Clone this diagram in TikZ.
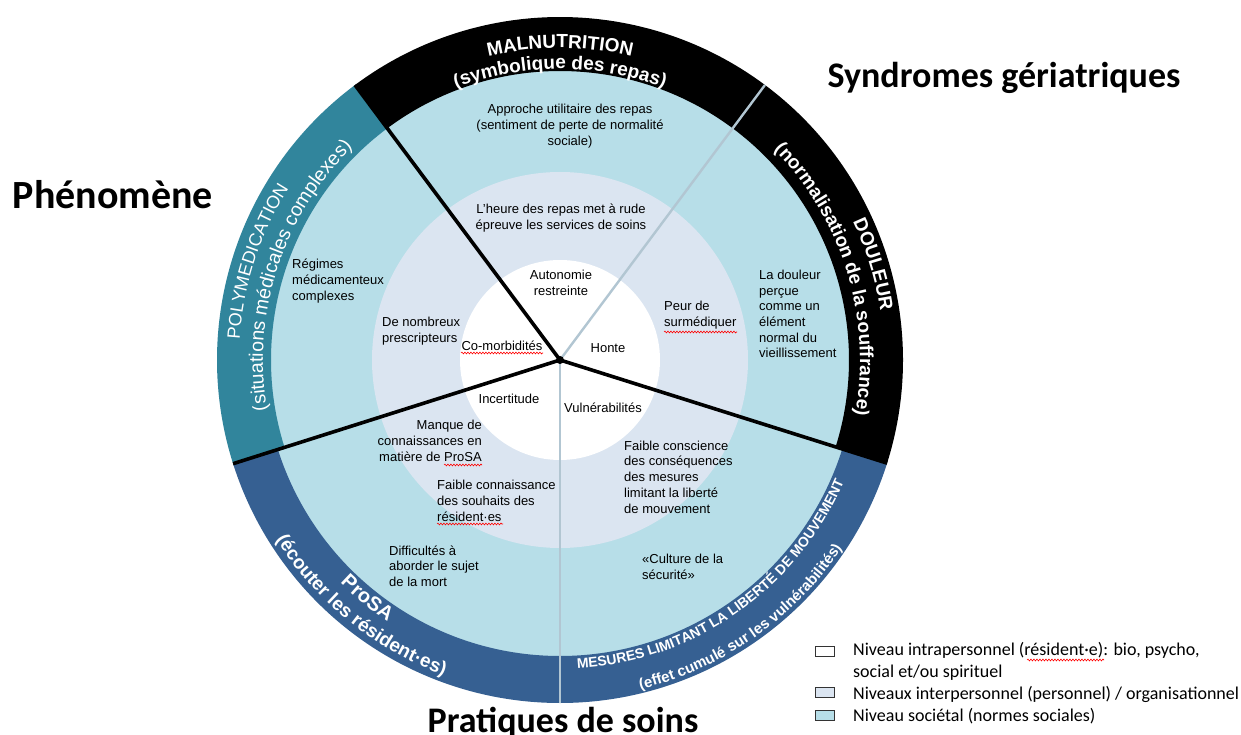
\documentclass[tikz,border=0pt]{standalone}
\usepackage{fontspec}
\setmainfont{Liberation Sans}
\newfontfamily\calibri{Carlito}
\usetikzlibrary{decorations.text,decorations.pathmorphing}

\definecolor{societal}{RGB}{183,222,232}
\definecolor{interpers}{RGB}{219,229,241}
\definecolor{bandteal}{RGB}{49,133,156}
\definecolor{bandblue}{RGB}{54,96,146}
\definecolor{divider}{RGB}{178,198,210}

% fonts used on the curved band labels
\newcommand\bandBig{\fontsize{19}{19}\selectfont\bfseries}
\newcommand\bandPoly{\fontsize{18}{18}\selectfont}
\newcommand\bandPolySub{\fontsize{19.5}{19.5}\selectfont}
\newcommand\bandProsa{\fontsize{20}{20}\selectfont\bfseries}
\newcommand\bandMes{\fontsize{14}{14}\selectfont\bfseries}
\newcommand\bandMesSub{\fontsize{15}{15}\selectfont\bfseries}

% annular sector: colour, start angle, end angle, inner radius, outer radius
\newcommand\ringsector[5]{%
  \fill[#1] (#2:#5) arc[start angle=#2,end angle=#3,radius=#5]
    -- (#3:#4) arc[start angle=#3,end angle=#2,radius=#4] -- cycle;}

% curved white label along an arc: radius, start angle, end angle, text
\newcommand\arclabel[4]{%
  \path[decorate,decoration={text along path,text align=center,
    text color=white,text={#4}}]
    (#2:#1) arc[start angle=#2,end angle=#3,radius=#1];}

\begin{document}
\begin{tikzpicture}[x=1pt,y=1pt,
  body/.style={font=\fontsize{13}{15.7}\selectfont,text=black,inner sep=0pt},
  heading/.style={font=\calibri\bfseries\fontsize{36}{36}\selectfont,text=black,inner sep=0pt},
  legtext/.style={font=\calibri\fontsize{18}{22}\selectfont,text=black,inner sep=0pt,anchor=west,align=left},
  legbox/.style={draw=black!80,line width=0.8pt,minimum width=19pt,minimum height=10pt,inner sep=0pt},
  sectorline/.style={line width=3.6pt,black},
  dividerline/.style={line width=2.4pt,divider},
  spell/.style={red,line width=0.6pt,decorate,decoration={snake,amplitude=0.9pt,segment length=3pt}}]

\useasboundingbox (-560,-375) rectangle (681,360);
\fill[white] (-560,-375) rectangle (681,360);

% concentric levels
\fill[societal] (0,0) circle[radius=300];
\fill[interpers] (0,0) circle[radius=188];
\fill[white] (0,0) circle[radius=100];

% outer band, one sector per theme
\ringsector{black}{53.3}{126.7}{289}{343}
\ringsector{bandteal}{126.7}{197.6}{289}{343}
\ringsector{bandblue}{197.6}{270}{296}{343}
\ringsector{bandblue}{270}{342.5}{296}{343}
\ringsector{black}{-17.5}{53.3}{289}{343}

% spokes
\coordinate (O) at (0,0);
\coordinate (eUR) at (53.3:343);
\coordinate (eDown) at (270:343);
\coordinate (eUL) at (126.7:343);
\coordinate (eL) at (197.6:343);
\coordinate (eR) at (-17.5:343);
\draw[dividerline] (O) -- (eUR);
\draw[dividerline] (O) -- (eDown);
\draw[sectorline] (O) -- (eUL);
\draw[sectorline] (O) -- (eL);
\draw[sectorline] (O) -- (eR);
\fill[black] (O) circle[radius=4];

% curved band labels
\arclabel{312}{130}{50}{|\bandBig|MALNUTRITION}
\arclabel{291}{130}{50}{|\bandBig|(symbolique des repas)}
\arclabel{321}{202}{122}{|\bandPoly|POLYMEDICATION}
\arclabel{297}{202}{122}{|\bandPolySub|(situations médicales complexes)}
\arclabel{324}{57}{-23}{|\bandBig|DOULEUR}
\arclabel{300}{57}{-23}{|\bandBig|(normalisation de la souffrance)}
\arclabel{313}{191}{271}{|\bandProsa|ProSA}
\arclabel{336}{191}{271}{|\bandBig|(écouter les résident·es)}
\arclabel{309}{265}{345}{|\bandMes|MESURES LIMITANT LA LIBERTÉ DE MOUVEMENT}
\arclabel{339}{265}{345}{|\bandMesSub|(effet cumulé sur les vulnérabilités)}

% societal level
\node[body,align=center] (approche) at (10,234) {Approche utilitaire des repas\\(sentiment de perte de normalité\\sociale)};
\node[body,align=left,anchor=west] (regimes) at (-268,79) {Régimes\\médicamenteux\\complexes};
\node[body,align=left,anchor=west] (douleur) at (199,46) {La douleur\\perçue\\comme un\\élément\\normal du\\vieillissement};
\node[body,align=left,anchor=west] (mort) at (-171,-206) {Difficultés à\\aborder le sujet\\de la mort};
\node[body,align=left,anchor=west] (culture) at (82,-207) {«Culture de la\\sécurité»};

% interpersonal / organisational level
\node[body,align=center] (heure) at (1,142) {L’heure des repas met à rude\\épreuve les services de soins};
\node[body,align=left,anchor=west] (prescr) at (-178,29) {De nombreux\\prescripteurs};
\node[body,align=left,anchor=west] (peur) at (104,45) {Peur de\\surmédiquer};
\node[body,align=right,anchor=east] (manque) at (-78,-81) {Manque de\\connaissances en\\matière de ProSA};
\node[body,align=left,anchor=west] (souhaits) at (-123,-141) {Faible connaissance\\des souhaits des\\résident·es};
\node[body,align=left,anchor=west] (conscience) at (64,-117) {Faible conscience\\des conséquences\\des mesures\\limitant la liberté\\de mouvement};

% intrapersonal level
\node[body,align=center] (autonomie) at (1,77) {Autonomie\\restreinte};
\node[body] (comorb) at (-58,14) {Co-morbidités};
\node[body] (honte) at (48,12) {Honte};
\node[body] (incert) at (-51,-39) {Incertitude};
\node[body] (vulner) at (43,-48) {Vulnérabilités};

% spell-check marks
\draw[spell] (-99,7) -- (-17,7);
\draw[spell] (104,28) -- (177,28);
\draw[spell] (-116,-105) -- (-78,-105);
\draw[spell] (-123,-164) -- (-57,-164);
\draw[spell] (467,-300) -- (544,-300);

% headings
\node[heading,font=\calibri\bfseries\fontsize{40}{40}\selectfont] (phenomene) at (-447,165) {Phénomène};
\node[heading] (syndromes) at (444,282) {Syndromes gériatriques};
\node[heading,anchor=base] (pratiques) at (3,-372) {Pratiques de soins};

% legend
\node[legbox,fill=white] (key1) at (264.5,-291) {};
\node[legbox,fill=interpers] (key2) at (264.5,-332.5) {};
\node[legbox,fill=societal] (key3) at (264.5,-355.5) {};
\node[legtext] (leg1) at (293,-301) {Niveau intrapersonnel (résident·e): bio, psycho,\\social et/ou spirituel};
\node[legtext] (leg2) at (293,-334) {Niveaux interpersonnel (personnel) / organisationnel};
\node[legtext] (leg3) at (293,-356) {Niveau sociétal (normes sociales)};
\end{tikzpicture}
\end{document}
